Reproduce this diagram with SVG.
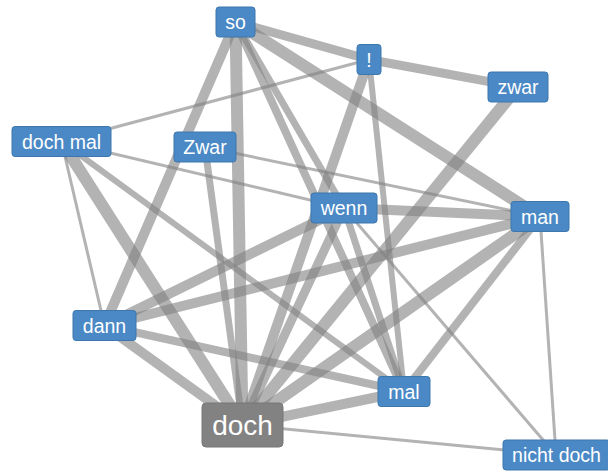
<svg xmlns="http://www.w3.org/2000/svg" width="608" height="471" viewBox="0 0 608 471">
<style>
.e{stroke:#808080;stroke-opacity:0.6;fill:none;stroke-linecap:butt}
.n rect{fill:#4a89c5;stroke:#3d77ad;stroke-width:1}
.n text{fill:#ffffff;font-family:"Liberation Sans",Arial,sans-serif;font-size:19.5px;text-anchor:middle}
.d rect{fill:#828282;stroke:#777777;stroke-width:1}
.d text{fill:#ffffff;font-family:"Liberation Sans",Arial,sans-serif;font-size:28px;text-anchor:middle}
</style>
<rect width="608" height="471" fill="#ffffff"/>
<g id="edges">
<line class="e" x1="235.5" y1="22" x2="369" y2="59.5" stroke-width="9"/>
<line class="e" x1="369" y1="59.5" x2="518" y2="87" stroke-width="9"/>
<line class="e" x1="235.5" y1="22" x2="540" y2="216.5" stroke-width="12"/>
<line class="e" x1="235.5" y1="22" x2="242.5" y2="425" stroke-width="12"/>
<line class="e" x1="235.5" y1="22" x2="104.5" y2="325.5" stroke-width="10"/>
<line class="e" x1="235.5" y1="22" x2="344" y2="208" stroke-width="7"/>
<line class="e" x1="235.5" y1="22" x2="404" y2="391.5" stroke-width="8"/>
<line class="e" x1="369" y1="59.5" x2="61.5" y2="141.5" stroke-width="3"/>
<line class="e" x1="369" y1="59.5" x2="242.5" y2="425" stroke-width="10"/>
<line class="e" x1="369" y1="59.5" x2="404" y2="391.5" stroke-width="6"/>
<line class="e" x1="518" y1="87" x2="242.5" y2="425" stroke-width="12"/>
<line class="e" x1="61.5" y1="141.5" x2="242.5" y2="425" stroke-width="12"/>
<line class="e" x1="61.5" y1="141.5" x2="404" y2="391.5" stroke-width="6"/>
<line class="e" x1="61.5" y1="141.5" x2="104.5" y2="325.5" stroke-width="3"/>
<line class="e" x1="61.5" y1="141.5" x2="344" y2="208" stroke-width="3"/>
<line class="e" x1="205" y1="147" x2="540" y2="216.5" stroke-width="3"/>
<line class="e" x1="205" y1="147" x2="242.5" y2="425" stroke-width="7"/>
<line class="e" x1="344" y1="208" x2="540" y2="216.5" stroke-width="10"/>
<line class="e" x1="344" y1="208" x2="104.5" y2="325.5" stroke-width="10"/>
<line class="e" x1="344" y1="208" x2="242.5" y2="425" stroke-width="9"/>
<line class="e" x1="344" y1="208" x2="404" y2="391.5" stroke-width="7"/>
<line class="e" x1="344" y1="208" x2="556" y2="455" stroke-width="3"/>
<line class="e" x1="540" y1="216.5" x2="104.5" y2="325.5" stroke-width="10"/>
<line class="e" x1="540" y1="216.5" x2="242.5" y2="425" stroke-width="12"/>
<line class="e" x1="540" y1="216.5" x2="404" y2="391.5" stroke-width="8"/>
<line class="e" x1="540" y1="216.5" x2="556" y2="455" stroke-width="3"/>
<line class="e" x1="104.5" y1="325.5" x2="242.5" y2="425" stroke-width="10"/>
<line class="e" x1="104.5" y1="325.5" x2="404" y2="391.5" stroke-width="8"/>
<line class="e" x1="242.5" y1="425" x2="404" y2="391.5" stroke-width="10"/>
<line class="e" x1="242.5" y1="425" x2="556" y2="455" stroke-width="3"/>
</g>
<g id="node-so" class="n"><rect x="216" y="7" width="39" height="30" rx="3"/><text x="235.5" y="29">so</text></g>
<g id="node-excl" class="n"><rect x="357" y="44.5" width="24" height="30" rx="3"/><text x="369" y="66.5">!</text></g>
<g id="node-zwar" class="n"><rect x="488" y="72" width="60" height="30" rx="3"/><text x="518" y="94">zwar</text></g>
<g id="node-dochmal" class="n"><rect x="12" y="126.5" width="99" height="30" rx="3"/><text x="61.5" y="148.5">doch mal</text></g>
<g id="node-Zwar" class="n"><rect x="174" y="132" width="62" height="30" rx="3"/><text x="205" y="154">Zwar</text></g>
<g id="node-wenn" class="n"><rect x="311" y="193" width="66" height="30" rx="3"/><text x="344" y="215">wenn</text></g>
<g id="node-man" class="n"><rect x="511" y="201.5" width="58" height="30" rx="3"/><text x="540" y="223.5">man</text></g>
<g id="node-dann" class="n"><rect x="73" y="310.5" width="63" height="30" rx="3"/><text x="104.5" y="332.5">dann</text></g>
<g id="node-doch" class="d"><rect x="202" y="403" width="81" height="44" rx="4"/><text x="242.5" y="435">doch</text></g>
<g id="node-mal" class="n"><rect x="378" y="376.5" width="52" height="30" rx="3"/><text x="404" y="398.5">mal</text></g>
<g id="node-nichtdoch" class="n"><rect x="503" y="440" width="107" height="30" rx="3"/><text x="556.5" y="462">nicht doch</text></g>
</svg>
